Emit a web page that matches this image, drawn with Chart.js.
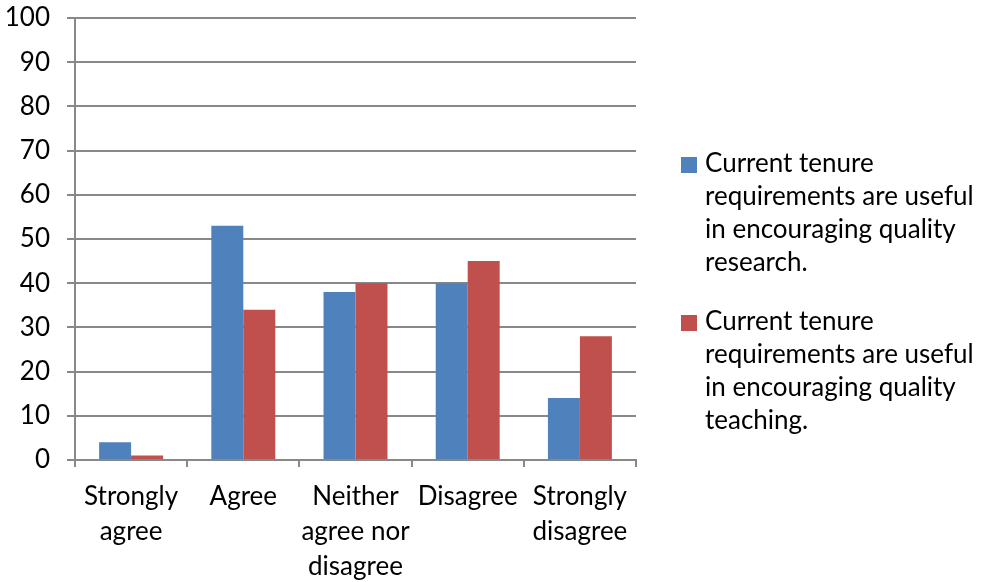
<!DOCTYPE html>
<html>
<head>
<meta charset="utf-8">
<script src="https://cdn.jsdelivr.net/npm/chart.js@4/dist/chart.umd.min.js"></script>
<style>
  html, body { margin: 0; padding: 0; background: #fff; overflow: hidden; }
  #wrap { position: relative; width: 987px; height: 582px; }
  #legend { position: absolute; left: 681px; top: 146px; font-family: Lato, sans-serif; font-size: 26px; line-height: 33px; color: #000; }
  .item { display: flex; align-items: flex-start; margin-bottom: 26px; }
  .box { width: 16px; height: 16px; margin-top: 11px; margin-right: 8px; flex: none; }
  .txt { width: 280px; }
</style>
</head>
<body>
<div id="wrap">
  <canvas id="bars" width="987" height="582"></canvas>
  <div id="legend"></div>
</div>
<script>
// categories and series
const categories = [['Strongly', 'agree'], 'Agree', ['Neither', 'agree nor', 'disagree'], 'Disagree', ['Strongly', 'disagree']];
const researchValues = [4, 53, 38, 40, 14];
const teachingValues = [1, 34, 40, 45, 28];
const seriesNames = [
  'Current tenure requirements are useful in encouraging quality research.',
  'Current tenure requirements are useful in encouraging quality teaching.'
];
const seriesColors = ['#4F81BD', '#C0504D'];

const gridColor = '#888888';
const xFont = { family: 'Lato, sans-serif', size: 26, lineHeight: '35px' };
const yFont = { family: 'Lato, sans-serif', size: 26, lineHeight: 1 };

const canvas = document.getElementById('bars');

const chart = new Chart(canvas, {
  type: 'bar',
  data: {
    labels: categories,
    datasets: [
      { label: seriesNames[0], data: researchValues, backgroundColor: seriesColors[0] },
      { label: seriesNames[1], data: teachingValues, backgroundColor: seriesColors[1] }
    ]
  },
  options: {
    responsive: false,
    animation: false,
    layout: { padding: { left: 0, right: 351, top: 18, bottom: 0 } },
    datasets: { bar: { categoryPercentage: 0.57, barPercentage: 1 } },
    plugins: {
      legend: { display: false },
      tooltip: { enabled: false }
    },
    scales: {
      x: {
        grid: { offset: true, drawOnChartArea: false, drawTicks: true, tickLength: 7, color: gridColor, lineWidth: 2 },
        border: { color: gridColor, width: 2 },
        ticks: { font: xFont, color: '#000', maxRotation: 0, autoSkip: false, padding: 12 },
        afterFit: function(scale) { scale.height = 122; }
      },
      y: {
        min: 0,
        max: 100,
        grid: { color: gridColor, lineWidth: 2, tickLength: 8 },
        border: { color: gridColor, width: 2 },
        ticks: { stepSize: 10, font: yFont, color: '#000', padding: 17 },
        afterFit: function(scale) {
          scale.width = 75;
          scale.paddingTop = 0;
          scale.paddingBottom = 0;
        }
      }
    }
  }
});

// legend as html text so it wraps like the original
const legend = document.getElementById('legend');
chart.data.datasets.forEach(function(ds) {
  const item = document.createElement('div');
  item.className = 'item';
  const box = document.createElement('div');
  box.className = 'box';
  box.style.background = ds.backgroundColor;
  const txt = document.createElement('div');
  txt.className = 'txt';
  txt.textContent = ds.label;
  item.appendChild(box);
  item.appendChild(txt);
  legend.appendChild(item);
});
</script>
</body>
</html>
